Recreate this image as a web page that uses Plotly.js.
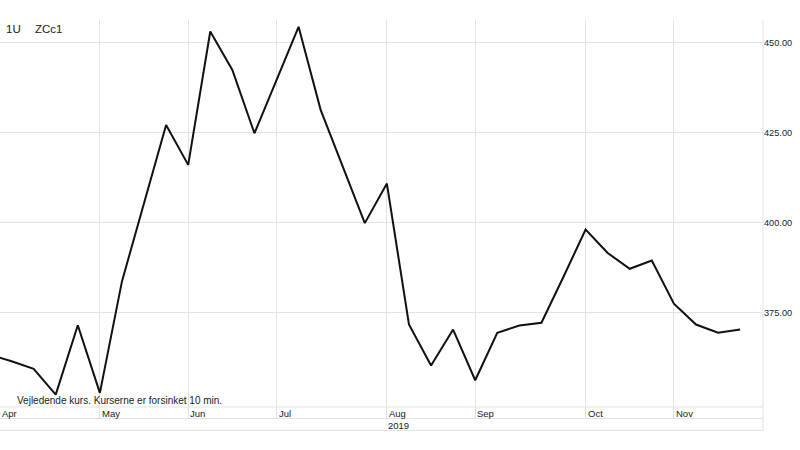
<!DOCTYPE html>
<html>
<head>
<meta charset="utf-8">
<script src="https://cdn.plot.ly/plotly-3.0.1.min.js"></script>
<style>html,body{margin:0;padding:0;background:#fff;}#chart{width:800px;height:450px;}</style>
</head>
<body>
<div id="chart"></div>
<script>
// Weekly prices (Monday dates), 2019
const dates = ["2019-04-01","2019-04-08","2019-04-15","2019-04-22","2019-04-29",
  "2019-05-06","2019-05-13","2019-05-20","2019-05-27",
  "2019-06-03","2019-06-10","2019-06-17","2019-06-24",
  "2019-07-01","2019-07-08","2019-07-15","2019-07-22","2019-07-29",
  "2019-08-05","2019-08-12","2019-08-19","2019-08-26",
  "2019-09-02","2019-09-09","2019-09-16","2019-09-23","2019-09-30",
  "2019-10-07","2019-10-14","2019-10-21","2019-10-28",
  "2019-11-04","2019-11-11","2019-11-18","2019-11-25"];
const prices = [363.2, 361.4, 359.3, 352.1, 371.4,
  352.6, 383.6, 405.4, 427.1,
  416.0, 453.1, 442.4, 424.8,
  439.6, 454.4, 431.3, 415.5, 399.8,
  410.8, 371.6, 360.2, 370.2,
  356.1, 369.3, 371.3, 372.1, 384.9,
  398.0, 391.5, 387.1, 389.4,
  377.4, 371.6, 369.3, 370.2];
const monthTickVals = ["2019-05-06","2019-06-03","2019-07-01","2019-08-05","2019-09-02","2019-10-07","2019-11-04"];
const monthTickText = ["May","Jun","Jul","Aug","Sep","Oct","Nov"];
const firstMonthLabel = "Apr";
const yearLabel = "2019";
const yearLabelAt = "2019-08-05";
const priceTicks = [375, 400, 425, 450];
const symbolLabels = ["1U", "ZCc1"];
const footerText = "Vejledende kurs. Kurserne er forsinket 10 min.";

const FONT = "Liberation Sans, Arial, Helvetica, sans-serif";
const GRID = "#e3e3e3";
const TXT = "#222";

const trace = {
  x: dates, y: prices, type: "scatter", mode: "lines",
  line: {color: "#111", width: 2}, hoverinfo: "skip"
};

const H = 398.5; // plot height px
const monthY = (418.5 - 413.5) / H;

const monthAnnotations = monthTickVals.map((d, i) => ({
  xref: "x", yref: "paper", x: d, y: monthY, xanchor: "left", yanchor: "middle",
  xshift: 0, text: monthTickText[i], showarrow: false,
  font: {family: FONT, size: 9.5, color: TXT}
}));

const layout = {
  width: 800, height: 450,
  margin: {l: 0, r: 37, t: 20, b: 31.5, pad: 0},
  paper_bgcolor: "#fff", plot_bgcolor: "#fff",
  showlegend: false,
  xaxis: {
    type: "date",
    range: ["2019-04-04 08:00", "2019-12-02 06:00"],
    tickmode: "array", tickvals: monthTickVals, ticktext: monthTickText,
    showticklabels: false,
    ticks: "", showgrid: true, gridcolor: GRID, gridwidth: 1,
    showline: true, linecolor: GRID, linewidth: 1,
    zeroline: false, fixedrange: true
  },
  yaxis: {
    side: "right",
    range: [345.6, 456.3],
    tickmode: "array", tickvals: priceTicks,
    ticktext: priceTicks.map(v => v.toFixed(2)),
    ticks: "", showgrid: true, gridcolor: GRID, gridwidth: 1,
    showline: false, zeroline: false, fixedrange: true,
    tickfont: {family: FONT, size: 9.2, color: TXT}
  },
  shapes: [
    {type: "line", xref: "paper", yref: "paper", x0: 1, x1: 1, y0: 1, y1: -12.5 / H, line: {color: GRID, width: 1}},
    {type: "line", xref: "paper", yref: "paper", x0: 0, x1: 1, y0: 11 / H, y1: 11 / H, line: {color: GRID, width: 1}},
    {type: "line", xref: "paper", yref: "paper", x0: 0, x1: 1, y0: -12.5 / H, y1: -12.5 / H, line: {color: GRID, width: 1}}
  ],
  annotations: [
    {xref: "paper", yref: "paper", x: 4 / 763, y: (418.5 - 29) / H, xanchor: "left", yanchor: "middle",
     text: symbolLabels[0], showarrow: false, font: {family: FONT, size: 11.5, color: TXT}},
    {xref: "paper", yref: "paper", x: 33 / 763, y: (418.5 - 29) / H, xanchor: "left", yanchor: "middle",
     text: symbolLabels[1], showarrow: false, font: {family: FONT, size: 11.5, color: TXT}},
    {xref: "paper", yref: "paper", x: 15 / 763, y: (418.5 - 400.7) / H, xanchor: "left", yanchor: "middle",
     text: footerText, showarrow: false, font: {family: FONT, size: 10, color: TXT}},
    {xref: "paper", yref: "paper", x: 0, y: monthY, xanchor: "left", yanchor: "middle",
     text: firstMonthLabel, showarrow: false, font: {family: FONT, size: 9.5, color: TXT}},
    {xref: "x", yref: "paper", x: yearLabelAt, y: -(426 - 418.5) / H, xanchor: "left", yanchor: "middle",
     text: yearLabel, showarrow: false, xshift: -1, font: {family: FONT, size: 9.5, color: TXT}}
  ].concat(monthAnnotations)
};

Plotly.newPlot("chart", [trace], layout, {displayModeBar: false, staticPlot: true});
</script>
</body>
</html>
